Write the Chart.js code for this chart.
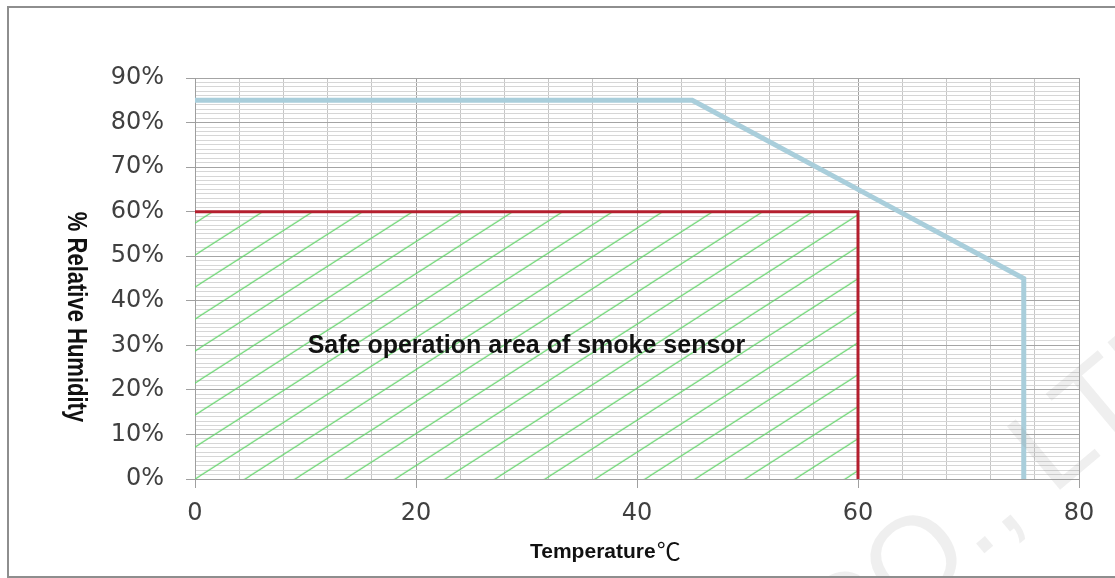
<!DOCTYPE html>
<html>
<head>
<meta charset="utf-8">
<script src="https://cdn.jsdelivr.net/npm/chart.js@4"></script>
<style>
  html, body { margin: 0; padding: 0; background: #fff; }
  #wrap { position: relative; width: 1115px; height: 578px; overflow: hidden; }
  #frame { position: absolute; left: 7px; top: 6px; width: 1200px; height: 572px;
           border: 2px solid #8e8e8e; box-sizing: border-box; }
  #chart-rh { position: absolute; left: 0; top: 0; }
</style>
</head>
<body>
<div id="wrap">
  <div id="frame"></div>
  <canvas id="chart-rh" width="1115" height="578"></canvas>
</div>
<script>
// values
const xTickLabels = [0, 20, 40, 60, 80];
const limitTemp = [0, 45, 60, 75, 75];
const limitHumidity = [85, 85, 65, 45, 0];
const safeTemp = [0, 60, 60];
const safeHumidity = [60, 60, 0];
const areaLabel = 'Safe operation area of smoke sensor';

const toPoints = (xs, ys) => xs.map((x, i) => ({ x: x, y: ys[i] }));

// diagonal green hatching for the safe area
function makeHatch() {
  const w = 50, h = 32;
  const tile = document.createElement('canvas');
  tile.width = w; tile.height = h;
  const c = tile.getContext('2d');
  c.strokeStyle = 'rgb(96,212,104)';
  c.lineWidth = 1.1;
  for (const off of [-h, 0, h]) {
    c.beginPath();
    c.moveTo(-2, h + off + 2 * h / w);
    c.lineTo(w + 2, off - 2 * h / w);
    c.stroke();
  }
  const p = c.createPattern(tile, 'repeat');
  p.setTransform(new DOMMatrix().translate(0, 27.8));
  return p;
}

const texts = {
  id: 'texts',
  afterDatasetsDraw(chart) {
    const ctx = chart.ctx;
    const xs = chart.scales.x, ys = chart.scales.y;
    ctx.save();
    ctx.fillStyle = '#111';
    ctx.font = 'bold 25px "Liberation Sans", Arial, sans-serif';
    ctx.textAlign = 'center';
    ctx.textBaseline = 'alphabetic';
    ctx.fillText(areaLabel, xs.getPixelForValue(30), ys.getPixelForValue(28.3));
    ctx.restore();
  },
  afterDraw(chart) {
    const ctx = chart.ctx;
    ctx.save();
    // y axis title, rotated clockwise
    ctx.translate(76, 317);
    ctx.rotate(Math.PI / 2);
    ctx.scale(1, 1.25);
    ctx.fillStyle = '#111';
    ctx.font = 'bold 22px "Liberation Sans", Arial, sans-serif';
    ctx.textAlign = 'center';
    ctx.textBaseline = 'middle';
    ctx.fillText('% Relative Humidity', 0, 0);
    ctx.restore();

    // x axis title
    ctx.save();
    ctx.fillStyle = '#111';
    ctx.textBaseline = 'alphabetic';
    ctx.font = 'bold 21px "Liberation Sans", Arial, sans-serif';
    ctx.fillText('Temperature', 530, 558);
    const w = ctx.measureText('Temperature').width;
    ctx.font = '24px "Noto Sans CJK SC", sans-serif';
    ctx.fillText('℃', 530 + w + 1, 560);
    ctx.restore();

    // watermark
    ctx.save();
    ctx.translate(838, 676);
    ctx.rotate(-40 * Math.PI / 180);
    ctx.font = '120px "Liberation Sans", Arial, sans-serif';
    ctx.fillStyle = 'rgba(150,150,150,0.15)';
    ctx.fillText('CO., LTD', 0, 0);
    ctx.restore();
  }
};

const data = {
  datasets: [{
    label: 'Safe area',
    data: toPoints(safeTemp, safeHumidity),
    borderColor: '#b41f2e',
    borderWidth: 3,
    backgroundColor: makeHatch(),
    fill: 'origin',
    pointRadius: 0,
    tension: 0
  }, {
    label: 'Limit',
    data: toPoints(limitTemp, limitHumidity),
    borderColor: '#a9cedb',
    borderWidth: 5,
    borderJoinStyle: 'miter',
    fill: false,
    pointRadius: 0,
    tension: 0
  }]
};

const config = {
  type: 'line',
  data: data,
  options: {
    responsive: false,
    animation: false,
    devicePixelRatio: 1,
    layout: { padding: { top: 78, right: 36, bottom: 0, left: 0 } },
    plugins: { legend: { display: false }, tooltip: { enabled: false } },
    scales: {
      x: {
        type: 'linear',
        min: 0, max: 80,
        afterFit: (s) => { s.height = 99; s.paddingLeft = 0; s.paddingRight = 0; },
        border: { color: '#9e9e9e' },
        grid: {
          color: (c) => c.tick && c.tick.value % 20 === 0 ? '#a0a0a0' : '#c6c6c6',
          tickColor: (c) => c.tick && c.tick.value % 20 === 0 ? '#a0a0a0' : 'rgba(0,0,0,0)',
          tickLength: 9
        },
        ticks: {
          stepSize: 4,
          autoSkip: false,
          maxRotation: 0,
          padding: 11,
          color: '#404040',
          font: { family: '"DejaVu Sans"', size: 24 },
          callback: (v) => xTickLabels.includes(v) ? String(v) : ''
        }
      },
      y: {
        min: 0, max: 90,
        afterFit: (s) => { s.width = 195; s.paddingTop = 0; s.paddingBottom = 0; },
        border: { color: '#9e9e9e' },
        grid: {
          color: (c) => c.tick && c.tick.value % 10 === 0 ? '#a4a4a4' : '#d6d6d6',
          tickColor: (c) => c.tick && c.tick.value % 10 === 0 ? '#a0a0a0' : 'rgba(0,0,0,0)',
          tickLength: 9
        },
        ticks: {
          stepSize: 1,
          autoSkip: false,
          padding: 22,
          color: '#404040',
          font: { family: '"DejaVu Sans"', size: 24 },
          callback: (v) => v % 10 === 0 ? v + '%' : ''
        }
      }
    }
  },
  plugins: [texts]
};

const chartRH = new Chart(document.getElementById('chart-rh'), config);
</script>
</body>
</html>
